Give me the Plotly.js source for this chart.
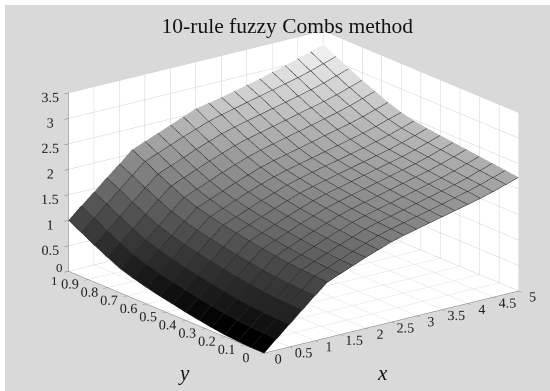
<!DOCTYPE html>
<html><head><meta charset="utf-8">
<script src="https://cdn.plot.ly/plotly-3.0.1.min.js"></script>
<style>html,body{margin:0;padding:0;background:#fff;overflow:hidden}#p{position:absolute;left:5px;top:5px;width:545px;height:386px}</style>
</head><body><div id="p"></div>
<script>
const xValues=[0,.25,.5,.75,1,1.25,1.5,1.75,2,2.25,2.5,2.75,3,3.25,3.5,3.75,4,4.25,4.5,4.75,5];
const yValues=[0,.0667,.1333,.2,.2667,.3333,.4,.4667,.5333,.6,.6667,.7333,.8,.8667,.9333,1];
const zValues=[
[0,.22,.44,.66,.88,1.09,1.19,1.29,1.39,1.48,1.57,1.64,1.70,1.76,1.82,1.88,1.94,2.0,2.07,2.15,2.23],
[0,.225,.447,.668,.889,1.10,1.20,1.30,1.40,1.50,1.59,1.66,1.72,1.78,1.84,1.90,1.965,2.03,2.10,2.18,2.26],
[.015,.237,.46,.682,.904,1.116,1.219,1.321,1.423,1.515,1.608,1.68,1.742,1.804,1.867,1.929,1.991,2.053,2.126,2.208,2.29],
[.035,.258,.48,.703,.926,1.139,1.242,1.344,1.447,1.54,1.633,1.705,1.768,1.831,1.894,1.956,2.019,2.082,2.155,2.237,2.32],
[.068,.291,.513,.736,.958,1.171,1.274,1.376,1.479,1.571,1.664,1.737,1.799,1.862,1.924,1.987,2.05,2.112,2.185,2.267,2.35],
[.11,.332,.554,.776,.998,1.21,1.312,1.414,1.516,1.608,1.70,1.772,1.834,1.896,1.958,2.02,2.082,2.144,2.216,2.298,2.38],
[.155,.376,.598,.819,1.04,1.251,1.353,1.454,1.555,1.646,1.738,1.809,1.87,1.931,1.993,2.054,2.115,2.176,2.248,2.329,2.41],
[.21,.43,.65,.87,1.09,1.30,1.40,1.50,1.60,1.69,1.78,1.85,1.91,1.97,2.03,2.09,2.15,2.21,2.28,2.36,2.44],
[.26,.48,.70,.92,1.14,1.35,1.45,1.55,1.65,1.74,1.83,1.90,1.96,2.02,2.075,2.135,2.195,2.255,2.325,2.40,2.48],
[.32,.54,.76,.98,1.20,1.41,1.51,1.61,1.71,1.80,1.885,1.955,2.015,2.075,2.135,2.195,2.255,2.315,2.385,2.465,2.54],
[.39,.61,.83,1.05,1.27,1.48,1.58,1.68,1.785,1.875,1.965,2.035,2.095,2.155,2.215,2.28,2.34,2.40,2.47,2.55,2.63],
[.47,.69,.914,1.136,1.358,1.57,1.672,1.774,1.876,1.968,2.06,2.132,2.194,2.256,2.318,2.38,2.442,2.504,2.576,2.658,2.74],
[.59,.81,1.03,1.25,1.476,1.687,1.789,1.89,1.992,2.084,2.175,2.246,2.308,2.37,2.431,2.493,2.554,2.615,2.687,2.768,2.85],
[.72,.94,1.16,1.383,1.604,1.815,1.916,2.016,2.118,2.21,2.30,2.37,2.432,2.493,2.553,2.614,2.676,2.737,2.808,2.889,2.97],
[.86,1.08,1.30,1.52,1.74,1.953,2.053,2.153,2.254,2.344,2.435,2.505,2.565,2.626,2.686,2.746,2.807,2.868,2.938,3.019,3.10],
[1.0,1.22,1.43,1.65,1.86,2.08,2.18,2.28,2.38,2.48,2.58,2.63,2.68,2.74,2.80,2.86,2.93,3.0,3.07,3.15,3.23]
];
const chartTitle='10-rule fuzzy Combs method';
const xTicks=[0,.5,1,1.5,2,2.5,3,3.5,4,4.5,5];
const yTicks=[0,.1,.2,.3,.4,.5,.6,.7,.8,.9,1];
const zTicks=[0,.5,1,1.5,2,2.5,3,3.5];
const serif='"Liberation Serif", serif';
const tickFont={family:serif,size:13,color:'#222'};
function ax(range,ticks,skip){return {range:range,tickmode:'array',tickvals:ticks,ticktext:ticks.map(t=>t===skip?' ':String(t)),tickangle:0,
 showgrid:true,gridcolor:'#d0d0d0',gridwidth:1,zeroline:false,showline:true,linecolor:'#777',linewidth:1,
 ticks:'outside',ticklen:5,tickcolor:'#777',tickwidth:1,showbackground:true,backgroundcolor:'#fff',
 showspikes:false,title:{text:''},tickfont:tickFont};}
// Each grid cell gets its own vertices so that it is shaded in one flat tone, like the original.
function doubled(v,eps){const o=[v[0]];for(let i=1;i<v.length;i++){o.push(v[i]-eps);o.push(v[i]);}return o;}
const ex=.012,ey=.0032;
const x2=doubled(xValues,ex),y2=doubled(yValues,ey);
const rowIdx=[0];for(let j=1;j<yValues.length;j++){rowIdx.push(j);rowIdx.push(j);}
const colIdx=[0];for(let i=1;i<xValues.length;i++){colIdx.push(i);colIdx.push(i);}
const z2=rowIdx.map(j=>colIdx.map(i=>zValues[j][i]));
const c2=y2.map((_,a)=>x2.map((_,b)=>zValues[Math.floor(Math.min(a,y2.length-2)/2)][Math.floor(Math.min(b,x2.length-2)/2)]));
const lineC='#262626';
const trace={type:'surface',x:x2,y:y2,z:z2,surfacecolor:c2,showscale:false,hoverinfo:'skip',
 colorscale:[[0,'#000'],[1,'#fff']],cmin:0,cmax:3.23,
 lighting:{ambient:1,diffuse:0,specular:0,roughness:1,fresnel:0},
 contours:{x:{show:true,start:0,end:5,size:.25,color:lineC,width:1},
           y:{show:true,start:0,end:1,size:.0667,color:lineC,width:1},
           z:{show:false}}};
const R=5;
const c={x:-.0724,y:.0427,z:-.0297};
const layout={width:545,height:386,margin:{l:0,r:0,t:0,b:0},paper_bgcolor:'#d9d9d9',
 title:{text:chartTitle,x:.518,xanchor:'center',y:.948,yanchor:'middle',font:{family:serif,size:21.5,color:'#111'}},
 scene:{domain:{x:[0,1],y:[0,1]},aspectmode:'manual',aspectratio:{x:1.66,y:1.67,z:.975},
  camera:{projection:{type:'orthographic'},eye:{x:c.x-.575*R,y:c.y-.753*R,z:c.z+.3195*R},up:{x:0,y:0,z:1},center:c},
  xaxis:ax([0,5],xTicks),yaxis:ax([0,1],yTicks,1),zaxis:ax([0,3.5],zTicks,0),
  annotations:[
   {x:0,y:1,z:0,text:'0',showarrow:false,xshift:-9,yshift:4,font:tickFont},
   {x:0,y:1,z:0,text:'1',showarrow:false,xshift:-14,yshift:-9,font:tickFont}
  ]},
 annotations:[
  {xref:'paper',yref:'paper',xanchor:'center',yanchor:'middle',x:(382-5)/545,y:1-(373-5)/386,text:'<i>x</i>',showarrow:false,font:{family:serif,size:21,color:'#111'}},
  {xref:'paper',yref:'paper',xanchor:'center',yanchor:'middle',x:(184-5)/545,y:1-(373-5)/386,text:'<i>y</i>',showarrow:false,font:{family:serif,size:21,color:'#111'}}
 ]};
Plotly.newPlot('p',[trace],layout,{displayModeBar:false});
</script></body></html>
